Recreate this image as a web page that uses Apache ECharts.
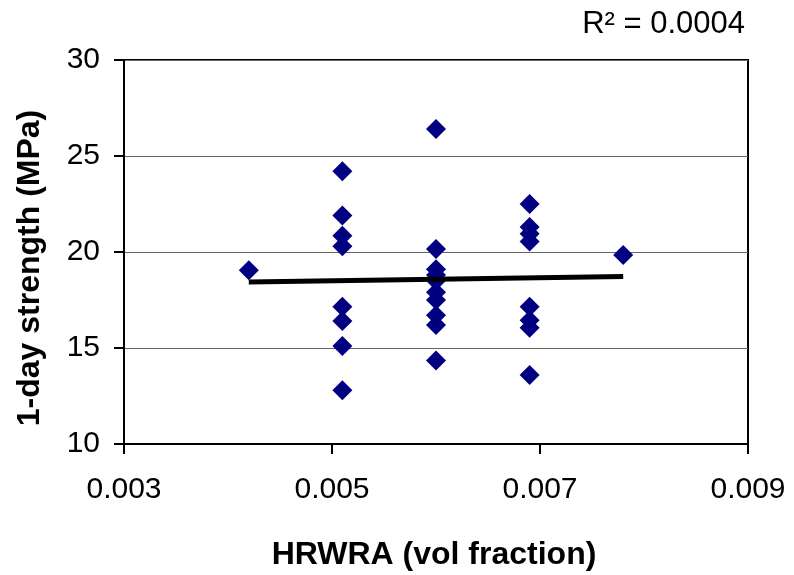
<!DOCTYPE html>
<html>
<head>
<meta charset="utf-8">
<script src="https://cdn.jsdelivr.net/npm/echarts@6/dist/echarts.min.js"></script>
<style>
  html, body { margin: 0; padding: 0; background: #fff; }
  #main { width: 794px; height: 575px; }
</style>
</head>
<body>
<div id="main"></div>
<script>
// HRWRA dosage (vol fraction) and 1-day strength (MPa)
let hrwra = [
  0.0042,
  0.0051, 0.0051, 0.0051, 0.0051, 0.0051, 0.0051, 0.0051, 0.0051,
  0.006, 0.006, 0.006, 0.006, 0.006, 0.006, 0.006, 0.006, 0.006, 0.006,
  0.0069, 0.0069, 0.0069, 0.0069, 0.0069, 0.0069, 0.0069, 0.0069,
  0.0078
];
let strength = [
  19.05,
  24.2, 21.9, 20.85, 20.3, 17.15, 16.4, 15.1, 12.8,
  26.4, 20.15, 19.1, 18.8, 18.5, 17.9, 17.5, 16.7, 16.2, 14.35,
  22.5, 21.3, 20.95, 20.55, 17.15, 16.45, 16.05, 13.6,
  19.85
];
// linear trend line end points
let trendX = [0.0042, 0.0078];
let trendY = [18.44, 18.73];
let xTicks = [0.003, 0.005, 0.007, 0.009];
let yTicks = [10, 15, 20, 25, 30];
let rSquared = 'R² = 0.0004';

let FONT = "'Liberation Sans', Arial, sans-serif";

let chartDom = document.getElementById('main');
let myChart = echarts.init(chartDom);

let points = hrwra.map(function (x, i) { return [x, strength[i]]; });
let trend = trendX.map(function (x, i) { return [x, trendY[i]]; });

let option = {
  animation: false,
  backgroundColor: '#fff',
  grid: {
    left: 124,
    right: 46,
    top: 60,
    bottom: 131,
    show: true,
    borderColor: '#000',
    borderWidth: 2
  },
  xAxis: {
    type: 'value',
    min: xTicks[0],
    max: xTicks[xTicks.length - 1],
    interval: xTicks[1] - xTicks[0],
    axisLine: { show: true, onZero: false, lineStyle: { color: '#000', width: 2 } },
    axisTick: { show: true, length: 10, lineStyle: { color: '#000', width: 2 } },
    axisLabel: {
      margin: 31,
      color: '#000',
      fontFamily: FONT,
      fontSize: 30,
      formatter: function (v) { return v.toFixed(3); }
    },
    splitLine: { show: false }
  },
  yAxis: {
    type: 'value',
    min: yTicks[0],
    max: yTicks[yTicks.length - 1],
    interval: yTicks[1] - yTicks[0],
    axisLine: { show: true, onZero: false, lineStyle: { color: '#000', width: 2 } },
    axisTick: { show: true, length: 10, lineStyle: { color: '#000', width: 2 } },
    axisLabel: {
      margin: 24,
      color: '#000',
      fontFamily: FONT,
      fontSize: 30
    },
    splitLine: { show: true, lineStyle: { color: '#666', width: 1 } }
  },
  graphic: [
    {
      type: 'text',
      x: 745,
      y: 24,
      style: {
        text: rSquared,
        fill: '#000',
        font: '31px ' + FONT,
        align: 'right',
        verticalAlign: 'middle'
      }
    },
    {
      type: 'text',
      x: 434,
      y: 555,
      style: {
        text: 'HRWRA (vol fraction)',
        fill: '#000',
        font: 'bold 32px ' + FONT,
        align: 'center',
        verticalAlign: 'middle'
      }
    },
    {
      type: 'text',
      x: 30,
      y: 268,
      rotation: Math.PI / 2,
      style: {
        text: '1-day strength (MPa)',
        fill: '#000',
        font: 'bold 32px ' + FONT,
        align: 'center',
        verticalAlign: 'middle'
      }
    }
  ],
  series: [
    {
      name: 'strength',
      type: 'scatter',
      symbol: 'diamond',
      symbolSize: 20,
      itemStyle: { color: '#000080', opacity: 1 },
      data: points,
      z: 2
    },
    {
      name: 'trend',
      type: 'line',
      showSymbol: false,
      symbol: 'none',
      lineStyle: { color: '#000', width: 5 },
      data: trend,
      z: 3
    }
  ]
};

option && myChart.setOption(option);
</script>
</body>
</html>
